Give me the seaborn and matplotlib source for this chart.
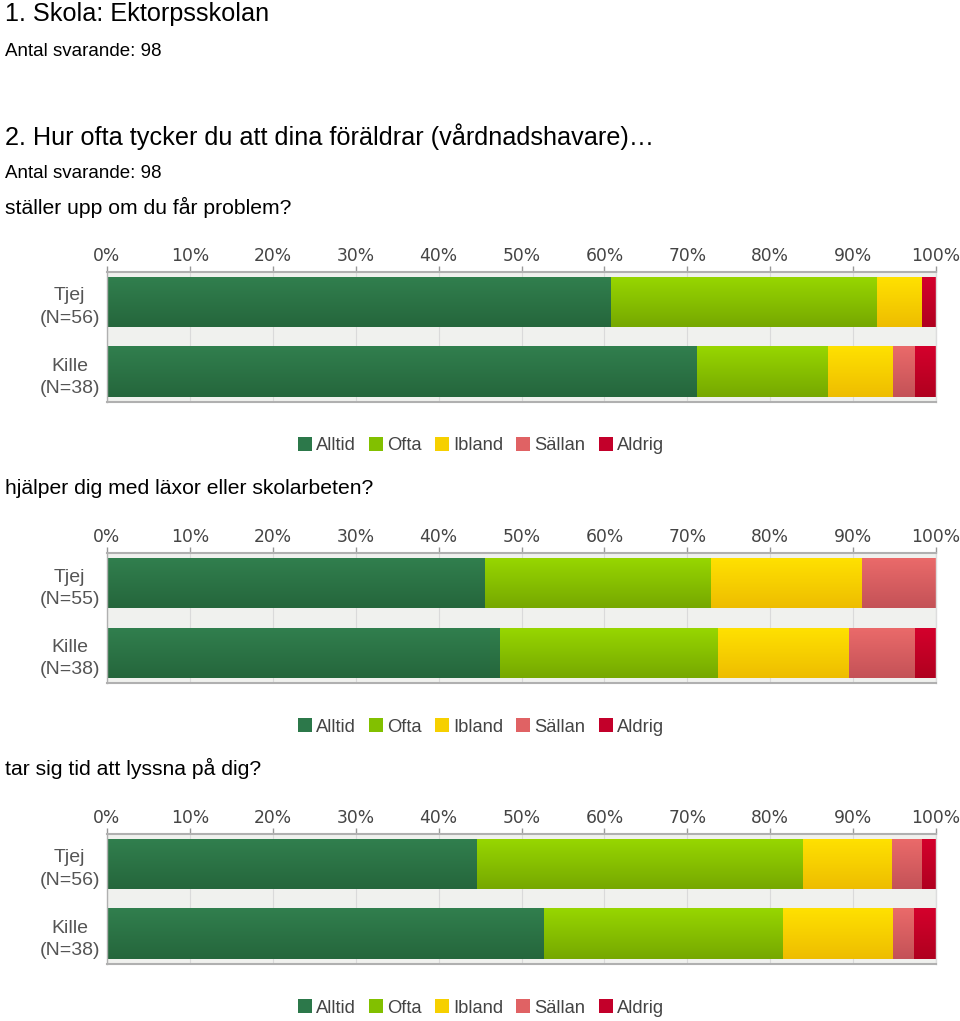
import numpy as np
import pandas as pd
import matplotlib
matplotlib.use("Agg")
import matplotlib.pyplot as plt
from matplotlib.colors import to_rgb
from matplotlib.lines import Line2D
import seaborn as sns

# ---------------- data ----------------
categories = ["Alltid", "Ofta", "Ibland", "Sällan", "Aldrig"]
group_labels = [["Tjej\n(N=56)", "Kille\n(N=38)"],
                ["Tjej\n(N=55)", "Kille\n(N=38)"],
                ["Tjej\n(N=56)", "Kille\n(N=38)"]]
questions = ["ställer upp om du får problem?",
             "hjälper dig med läxor eller skolarbeten?",
             "tar sig tid att lyssna på dig?"]
# percentages per category for [Tjej, Kille]
q1_values = {"Alltid": [60.7, 71.1], "Ofta": [32.1, 15.8], "Ibland": [5.4, 7.9],
             "Sällan": [0.0, 2.6], "Aldrig": [1.8, 2.6]}
q2_values = {"Alltid": [45.5, 47.4], "Ofta": [27.3, 26.3], "Ibland": [18.2, 15.8],
             "Sällan": [9.0, 7.9], "Aldrig": [0.0, 2.6]}
q3_values = {"Alltid": [44.6, 52.6], "Ofta": [39.3, 28.9], "Ibland": [10.7, 13.2],
             "Sällan": [3.6, 2.6], "Aldrig": [1.8, 2.7]}
all_values = [q1_values, q2_values, q3_values]
tick_values = [0, 10, 20, 30, 40, 50, 60, 70, 80, 90, 100]
tick_labels = [f"{v}%" for v in tick_values]

# ---------------- style ----------------
sns.set_theme(style="white")
plt.rcParams["font.family"] = ["Liberation Sans", "DejaVu Sans"]

colors_top = {"Alltid": "#317f4e", "Ofta": "#97d600", "Ibland": "#ffe100",
              "Sällan": "#ea6a6a", "Aldrig": "#d4002c"}
colors_bot = {"Alltid": "#25663c", "Ofta": "#76a800", "Ibland": "#eebd00",
              "Sällan": "#c45257", "Aldrig": "#b0001f"}
legend_colors = {"Alltid": "#2c784a", "Ofta": "#82c000", "Ibland": "#f6d000",
                 "Sällan": "#e06264", "Aldrig": "#c3002a"}

W, H = 960, 1021
fig = plt.figure(figsize=(W / 100, H / 100), dpi=100)
fig.patch.set_facecolor("white")

def fy(px):
    return 1 - px / H

fig.text(5 / W, fy(14), "1. Skola: Ektorpsskolan", fontsize=18.2, va="center", ha="left", color="black")
fig.text(5 / W, fy(51), "Antal svarande: 98", fontsize=13.5, va="center", ha="left", color="black")
fig.text(5 / W, fy(137), "2. Hur ofta tycker du att dina föräldrar (vårdnadshavare)…", fontsize=18.2,
         va="center", ha="left", color="black")
fig.text(5 / W, fy(173), "Antal svarande: 98", fontsize=13.5, va="center", ha="left", color="black")

tops = [272, 553, 834]
question_y = [207, 488, 768]
legend_y = [446, 727, 1008]
ax_h = 130
left_px, right_px = 107, 936

for qi in range(3):
    vals = all_values[qi]
    labels = group_labels[qi]
    fig.text(5 / W, fy(question_y[qi]), questions[qi], fontsize=15.2, va="center", ha="left", color="black")

    ax = fig.add_axes([left_px / W, fy(tops[qi] + ax_h), (right_px - left_px) / W, ax_h / H])
    ax.set_facecolor("#f0f1ee")

    df = pd.DataFrame(vals, index=labels)
    cum = df.cumsum(axis=1)
    # draw from the full stack down to the first category so the bars appear stacked
    for cat in reversed(categories):
        d = pd.DataFrame({"group": labels, "value": cum[cat].values})
        sns.barplot(data=d, x="value", y="group", orient="h", color=colors_top[cat],
                    width=50 / 70, saturation=1, ax=ax, linewidth=0, errorbar=None)

    # vertical gradient on each bar
    patches = list(ax.patches)
    cat_order = []
    for cat in reversed(categories):
        cat_order += [cat] * len(labels)
    for p, cat in zip(patches, cat_order):
        x0, y0 = p.get_x(), p.get_y()
        w, h = p.get_width(), p.get_height()
        if w <= 0:
            continue
        c1 = np.array(to_rgb(colors_top[cat]))
        c2 = np.array(to_rgb(colors_bot[cat]))
        t = np.linspace(0, 1, 64)[:, None]
        grad = (c2 * (1 - t) + c1 * t)[:, None, :]
        ax.imshow(grad, extent=(x0, x0 + w, y0 + h, y0), origin="lower",
                  aspect="auto", interpolation="bilinear")
        p.set_visible(False)
    for k, im in enumerate(ax.images):
        im.set_zorder(2 + k * 0.01)

    ax.set_xlim(0, 100)
    ax.set_ylim(1 + 29.5 / 70, -30.5 / 70)
    ax.set_aspect("auto")
    ax.set_xlabel("")
    ax.set_ylabel("")

    ax.xaxis.tick_top()
    ax.set_xticks(tick_values)
    ax.set_xticklabels(tick_labels, fontsize=12.3, color="#444444", family="DejaVu Sans")
    ax.tick_params(axis="x", which="both", length=4, width=1, color="#999999", pad=1, top=True, bottom=False)
    ax.set_yticks(range(len(labels)))
    ax.set_yticklabels(labels, fontsize=14, color="#555555", linespacing=1.4)
    ax.tick_params(axis="y", length=0, pad=5)
    for lab in ax.get_yticklabels():
        lab.set_multialignment("center")

    ax.grid(axis="x", color="#dadada", linewidth=0.8, zorder=0)
    ax.set_axisbelow(True)
    for side in ["top", "bottom"]:
        ax.spines[side].set_visible(True)
        ax.spines[side].set_color("#b0b0b0")
        ax.spines[side].set_linewidth(1.5)
    ax.spines["left"].set_color("#b0b0b0")
    ax.spines["left"].set_linewidth(1)
    ax.spines["right"].set_color("#dddddd")
    ax.spines["right"].set_linewidth(1)

    handles = [Line2D([0], [0], marker="s", linestyle="none", markersize=10,
                      markerfacecolor=legend_colors[c], markeredgewidth=0, label=c)
               for c in categories]
    fig.legend(handles=handles, loc="center", bbox_to_anchor=(480 / W, fy(legend_y[qi])),
               ncol=5, frameon=False, fontsize=13.2, handletextpad=0.1, columnspacing=0.6,
               labelcolor="#444444", handlelength=1.0)

fig.savefig("out.png", dpi=100)
